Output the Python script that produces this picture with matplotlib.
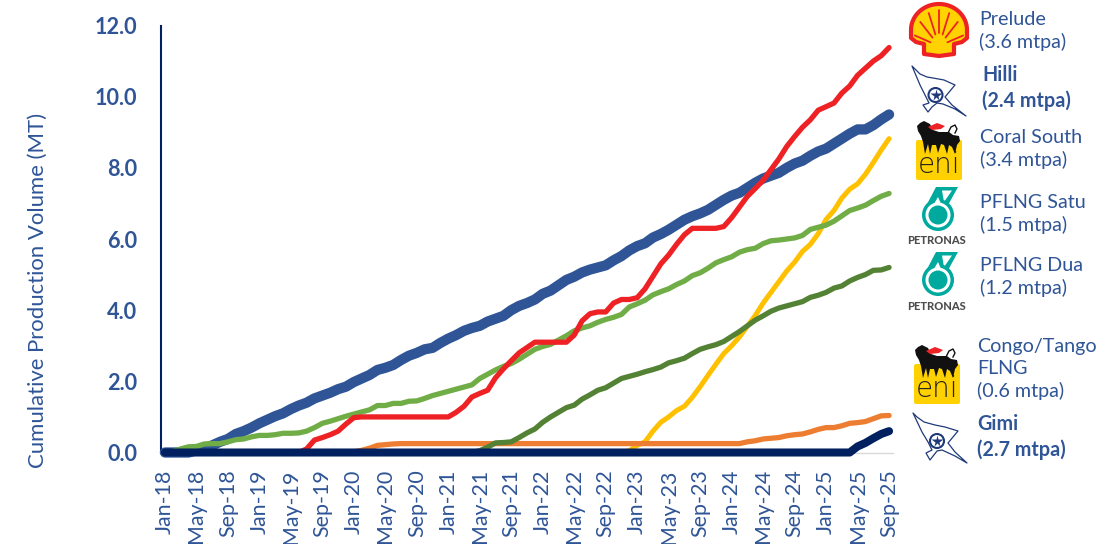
import numpy as np
import matplotlib
matplotlib.use("Agg")
import matplotlib.pyplot as plt
from matplotlib.patches import Polygon, Circle, FancyBboxPatch

plt.rcParams['font.family'] = ['Lato', 'DejaVu Sans']

TEXT = '#2F5597'
W, H = 1120, 544

# Cumulative production by vessel, one value per month from Jan-18 to Sep-25
tick_labels = [f"{m}-{y}" for y in range(18, 26) for m in ("Jan", "May", "Sep")]

hilli = [0, 0, 0, 0, .06, .12, .2, .3, .38, .52, .6, .7, .82, .92, 1.02, 1.1, 1.22, 1.32, 1.4, 1.52, 1.6, 1.68, 1.78,
         1.85, 1.98, 2.08, 2.18, 2.32, 2.38, 2.46, 2.6, 2.72, 2.8, 2.9, 2.94, 3.08, 3.2, 3.3, 3.42, 3.5, 3.56, 3.68,
         3.76, 3.84, 4.0, 4.12, 4.2, 4.3, 4.46, 4.55, 4.7, 4.85, 4.94, 5.06, 5.14, 5.2, 5.26, 5.4, 5.52, 5.68, 5.8,
         5.88, 6.04, 6.14, 6.26, 6.4, 6.54, 6.64, 6.72, 6.82, 6.96, 7.1, 7.22, 7.3, 7.44, 7.58, 7.7, 7.78, 7.86, 8.0,
         8.12, 8.2, 8.34, 8.46, 8.54, 8.68, 8.82, 8.96, 9.08, 9.08, 9.2, 9.36, 9.5]
coral_south = [0] * 59 + [.05, .2, .3, .6, .85, 1.0, 1.18, 1.3, 1.55, 1.85, 2.17, 2.48, 2.78, 3.0, 3.25, 3.55, 3.85,
                          4.2, 4.5, 4.8, 5.1, 5.35, 5.65, 5.85, 6.15, 6.55, 6.8, 7.15, 7.4, 7.55, 7.82, 8.15, 8.5, 8.82]
congo_tango = [0] * 24 + [.02, .06, .12, .2, .22, .24] + [.25] * 44 + [.3, .33, .38, .4, .42, .47, .5, .52, .58, .65,
                                                                        .7, .7, .75, .82, .84, .87, .95, 1.03, 1.04]
pflng_dua = [0] * 40 + [.05, .15, .27, .28, .3, .42, .55, .66, .85, 1.0, 1.13, 1.26, 1.33, 1.5, 1.62, 1.75, 1.82, 1.95,
                        2.08, 2.14, 2.2, 2.27, 2.33, 2.4, 2.52, 2.58, 2.65, 2.78, 2.9, 2.97, 3.03, 3.12, 3.26, 3.4,
                        3.56, 3.72, 3.84, 3.97, 4.06, 4.12, 4.18, 4.24, 4.36, 4.42, 4.5, 4.62, 4.68, 4.82, 4.92, 5.0,
                        5.12, 5.13, 5.2]
pflng_satu = [0, .03, .1, .16, .17, .24, .25, .25, .3, .36, .38, .44, .48, .48, .5, .54, .54, .55, .6, .7, .82, .88,
              .95, 1.02, 1.08, 1.14, 1.2, 1.32, 1.32, 1.38, 1.38, 1.44, 1.45, 1.52, 1.6, 1.66, 1.72, 1.78, 1.84, 1.9,
              2.08, 2.2, 2.32, 2.42, 2.5, 2.62, 2.76, 2.9, 2.98, 3.04, 3.16, 3.28, 3.42, 3.5, 3.56, 3.66, 3.74, 3.8,
              3.88, 4.09, 4.18, 4.28, 4.43, 4.52, 4.6, 4.72, 4.82, 4.97, 5.05, 5.18, 5.33, 5.42, 5.5, 5.63, 5.7, 5.74,
              5.87, 5.95, 5.97, 6.0, 6.03, 6.1, 6.27, 6.33, 6.39, 6.5, 6.65, 6.8, 6.87, 6.95, 7.08, 7.2, 7.28]
prelude = [0] * 18 + [.1, .35, .42, .5, .6, .8, .98] + [1.0] * 12 + [1.13, 1.3, 1.56, 1.66, 1.75, 2.1, 2.35, 2.58, 2.8,
          2.95, 3.1, 3.1, 3.1, 3.1, 3.1, 3.3, 3.7, 3.9, 3.95, 3.95, 4.2, 4.3, 4.3, 4.35, 4.6, 4.95, 5.3, 5.55, 5.85,
          6.12, 6.3, 6.3, 6.3, 6.3, 6.35, 6.6, 6.9, 7.2, 7.42, 7.65, 7.95, 8.25, 8.6, 8.88, 9.14, 9.35, 9.62, 9.72,
          9.82, 10.1, 10.3, 10.6, 10.8, 11.0, 11.15, 11.38]
gimi = [0] * 88 + [.17, .27, .4, .52, .6]

# (values, colour, line width in pt), listed from back to front
series = [
    (hilli, '#2F5597', 7.4),
    (coral_south, '#FFC000', 3.6),
    (congo_tango, '#ED7D31', 3.8),
    (pflng_dua, '#548235', 3.8),
    (pflng_satu, '#70AD47', 3.8),
    (prelude, '#EE2224', 3.8),
    (gimi, '#002060', 5.8),
]

fig = plt.figure(figsize=(W / 100, H / 100), dpi=100)
ax = fig.add_axes([161 / W, 1 - 452.5 / H, (893 - 161) / W, (452.5 - 25.5) / H])

months = np.arange(93)
for values, colour, lw in series:
    ax.plot(months, values, color=colour, lw=lw, solid_capstyle='round', solid_joinstyle='round', clip_on=False, zorder=3)

ax.set_xlim(-0.5, 92.5)
ax.set_ylim(0, 12)
ax.set_yticks(np.arange(0, 12.1, 2))
ax.set_yticklabels([f"{v:.1f}" for v in np.arange(0, 12.1, 2)], fontweight='bold', fontsize=15.6, color=TEXT)
ax.set_xticks(months[::4])
ax.set_xticklabels(tick_labels[:len(months[::4])], rotation=90, fontsize=15.4, color=TEXT)
ax.tick_params(axis='both', length=0)
ax.tick_params(axis='y', pad=17)
ax.tick_params(axis='x', pad=12)
ax.set_ylabel("Cumulative Production Volume (MT)", fontsize=15.9, color=TEXT, labelpad=0)
ax.yaxis.set_label_coords((48 - 161) / (893 - 161), (452.5 - 290) / (452.5 - 25.5))
for side in ('top', 'right'):
    ax.spines[side].set_visible(False)
ax.spines['left'].set_color('#002060')
ax.spines['left'].set_linewidth(1.5)
ax.spines['left'].set_zorder(1)
ax.spines['bottom'].set_color('#D9D9D9')
ax.spines['bottom'].set_linewidth(1.0)
ax.spines['bottom'].set_zorder(1)

# Overlay in pixel coordinates for the operator logos and their captions
ov = fig.add_axes([0, 0, 1, 1], zorder=5)
ov.set_xlim(0, W)
ov.set_ylim(H, 0)
ov.axis('off')
ov.patch.set_alpha(0)


def shell(cx, cy):
    t = np.radians(np.linspace(178, 362, 40))
    arc = np.c_[cx + 28 * np.cos(t), cy + 26 * np.sin(t)]
    base = np.array([(28, 8), (23, 12), (15, 14), (15, 24), (0, 26), (-15, 24), (-15, 14), (-23, 12), (-28, 8)], float)
    ov.add_patch(Polygon(np.r_[arc, base + (cx, cy)], closed=True, fc='#FFD200', ec='#EE2224', lw=3, joinstyle='round'))
    origin = np.array((cx, cy + 16))
    for ang in (180 + 17, 180 + 42, 180 + 66, 270, 360 - 66, 360 - 42, 360 - 17):
        r = np.radians(ang)
        tip = np.array((24 * np.cos(r) * 1.05, 36 * np.sin(r)))
        ov.plot(*zip(origin + 0.35 * tip, origin + tip), color='#EE2224', lw=1.3, solid_capstyle='round')


def flag(points, star_xy):
    ov.add_patch(Polygon(points, closed=True, fc='white', ec='#1F3A78', lw=0.9, joinstyle='round'))
    ov.add_patch(Circle(star_xy, 7, fc='white', ec='#1F3A78', lw=1.5))
    ov.plot(*star_xy, marker='*', ms=8.5, color='#1F3A78', mec='none')


def eni(x0, y0):
    # Yellow tile with the six-legged dog on top
    ov.add_patch(FancyBboxPatch((x0 + 1, y0 + 1), 46, 40, boxstyle="round,pad=0,rounding_size=2", fc='#FFD100', ec='none'))
    dog = np.array([(5, -16), (9, -18), (15, -15), (18, -9), (24, -7), (34, -7), (38, -4), (44, -3), (45, 2), (42, 6),
                    (40, 15), (37, 8), (34, 6), (32, 15), (29, 6), (26, 5), (23, 14), (21, 6), (17, 6), (15, 15),
                    (13, 5), (10, 15), (8, 3), (6, -3), (3, -8), (2, -13)], float)
    ov.add_patch(Polygon(dog + (x0, y0), closed=True, fc='#111111', ec='none'))
    ov.add_patch(Polygon(np.array([(13, -12), (22, -16), (30, -13), (26, -10), (17, -9)], float) + (x0, y0), closed=True,
                         fc='#EE2224', ec='none'))
    ov.plot([x0 + 33, x0 + 36, x0 + 40, x0 + 42, x0 + 40], [y0 - 6, y0 - 12, y0 - 14, y0 - 10, y0 - 6], color='#111111', lw=1)
    ov.text(x0 + 24, y0 + 40, "eni", fontsize=20, ha='center', va='bottom', color='#222222', family='DejaVu Sans',
            fontweight='light')


def petronas(cx, cy):
    teal = '#00A99D'
    ov.add_patch(Polygon(np.array([(-2, -28), (20, -28), (9, -8), (15, 3), (-15, 3), (-13, -7)], float) + (cx, cy),
                         closed=True, fc=teal, ec='none'))
    ov.add_patch(Polygon(np.array([(4, -24.5), (14, -24.5), (6, -13)], float) + (cx, cy), closed=True, fc='white', ec='none'))
    ov.add_patch(Circle((cx, cy), 16, fc=teal, ec='none'))
    ov.add_patch(Polygon(np.array([(0, -18), (3.5, -10), (6, -6), (-7, -6)], float) + (cx, cy), closed=True, fc='white', ec='none'))
    ov.add_patch(Circle((cx, cy), 12.5, fc='white', ec='none'))
    ov.add_patch(Circle((cx, cy), 9.5, fc=teal, ec='none'))
    ov.text(cx - 1, cy + 26, "PETRONAS", fontsize=8, fontweight='black', color='#4D4D4D', ha='center', va='center')


shell(939, 30)
flag([(912, 66), (915, 69), (920, 74), (927, 77), (933, 78), (944, 80), (955, 85), (950, 91), (945, 97), (952, 105),
      (966, 116), (955, 109), (943, 104), (937, 103), (932, 107), (928, 112), (923, 105), (929, 103), (925, 95), (920, 85)],
     (935.5, 95))
eni(915, 139)
petronas(938, 215)
petronas(938, 280)
eni(913, 363)
flag([(913, 413), (917, 417), (924, 422), (935, 425), (945, 427), (958, 431), (953, 437), (948, 443), (955, 452),
      (967, 463), (955, 456), (942, 450), (937, 451), (930, 460), (926, 453), (932, 450), (928, 442), (922, 432)],
     (937, 441))

captions = [
    ("Prelude\n(3.6 mtpa)", 979, 31, 'normal'),
    ("Hilli\n(2.4 mtpa)", 982, 88, 'bold'),
    ("Coral South\n(3.4 mtpa)", 980, 149, 'normal'),
    ("PFLNG Satu\n(1.5 mtpa)", 980, 214, 'normal'),
    ("PFLNG Dua\n(1.2 mtpa)", 980, 277, 'normal'),
    ("Congo/Tango\nFLNG\n(0.6 mtpa)", 977, 369, 'normal'),
    ("Gimi\n(2.7 mtpa)", 977, 437, 'bold'),
]
for caption, x, y, weight in captions:
    ov.text(x, y, caption, fontsize=14.2, color=TEXT, fontweight=weight, ha='left', va='center', linespacing=1.37)

fig.savefig("out.png", dpi=100, facecolor='white')
